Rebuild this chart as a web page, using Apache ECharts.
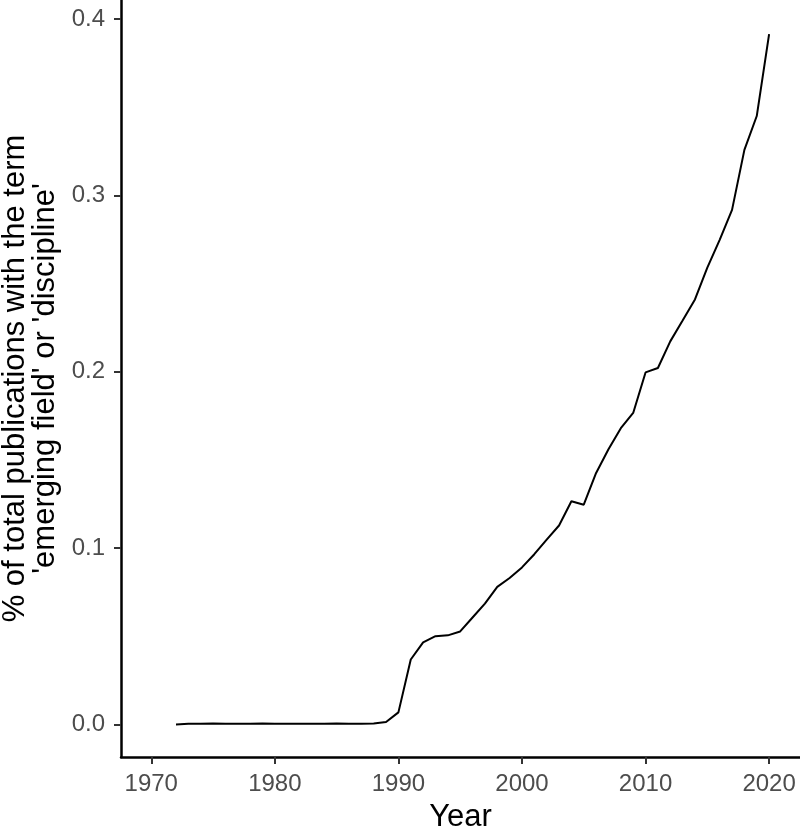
<!DOCTYPE html>
<html>
<head>
<meta charset="utf-8">
<script src="https://cdn.jsdelivr.net/npm/echarts@6/dist/echarts.min.js"></script>
<style>
  html, body { margin: 0; padding: 0; background: #fff; }
  #chart { width: 800px; height: 830px; }
</style>
</head>
<body>
<div id="chart"></div>
<script>
// share of publications per year (%)
const years = [
  1972, 1973, 1974, 1975, 1976, 1977, 1978, 1979, 1980, 1981,
  1982, 1983, 1984, 1985, 1986, 1987, 1988, 1989, 1990, 1991,
  1992, 1993, 1994, 1995, 1996, 1997, 1998, 1999, 2000, 2001,
  2002, 2003, 2004, 2005, 2006, 2007, 2008, 2009, 2010, 2011,
  2012, 2013, 2014, 2015, 2016, 2017, 2018, 2019, 2020
]
const share = [
  0.0000, 0.0003, 0.0004, 0.0005, 0.0003, 0.0003, 0.0004, 0.0005, 0.0004, 0.0003,
  0.0004, 0.0003, 0.0004, 0.0005, 0.0004, 0.0003, 0.0005, 0.0013, 0.0068, 0.0368,
  0.0465, 0.0500, 0.0505, 0.0527, 0.0606, 0.0685, 0.0780, 0.0830, 0.0890, 0.0965,
  0.1048, 0.1128, 0.1265, 0.1246, 0.1426, 0.1560, 0.1680, 0.1766, 0.1996, 0.2021,
  0.2172, 0.2290, 0.2410, 0.2590, 0.2748, 0.2918, 0.3258, 0.3450, 0.3915
]
const xTicks = [1970, 1980, 1990, 2000, 2010, 2020]
const yTicks = [0, 0.1, 0.2, 0.3, 0.4]

const chart = echarts.init(document.getElementById('chart'))
const font = 'Liberation Sans, Arial, sans-serif'

chart.setOption({
  animation: false,
  grid: { left: 121, right: 0, top: 0, bottom: 73, containLabel: false, outerBoundsMode: 'none' },
  xAxis: {
    type: 'value',
    min: 1967.55,
    max: 2022.5,
    name: 'Year',
    nameLocation: 'middle',
    nameGap: 45,
    nameTextStyle: { color: '#000', fontSize: 31, fontFamily: font },
    axisLine: { onZero: false, lineStyle: { color: '#000', width: 2.5 } },
    axisTick: { customValues: xTicks, length: 7, lineStyle: { color: '#333', width: 2 } },
    axisLabel: {
      customValues: xTicks,
      margin: 15,
      color: '#4d4d4d',
      fontSize: 24,
      fontFamily: font,
      formatter: v => String(v)
    },
    splitLine: { show: false }
  },
  yAxis: {
    type: 'value',
    min: -0.0185,
    max: 0.4108,
    name: "% of total publications with the term\n'emerging field' or 'discipline'",
    nameLocation: 'middle',
    nameGap: 52,
    nameTextStyle: { color: '#000', fontSize: 31, fontFamily: font, lineHeight: 30 },
    axisLine: { show: true, onZero: false, lineStyle: { color: '#000', width: 2.5 } },
    axisTick: { show: true, customValues: yTicks, length: 7, lineStyle: { color: '#333', width: 2 } },
    axisLabel: {
      customValues: yTicks,
      margin: 16,
      color: '#4d4d4d',
      fontSize: 24,
      fontFamily: font,
      formatter: v => v.toFixed(1)
    },
    splitLine: { show: false }
  },
  series: [
    {
      type: 'line',
      data: years.map((y, i) => [y, share[i]]),
      showSymbol: false,
      lineStyle: { color: '#000', width: 2 },
      itemStyle: { color: '#000' }
    }
  ]
})
</script>
</body>
</html>
